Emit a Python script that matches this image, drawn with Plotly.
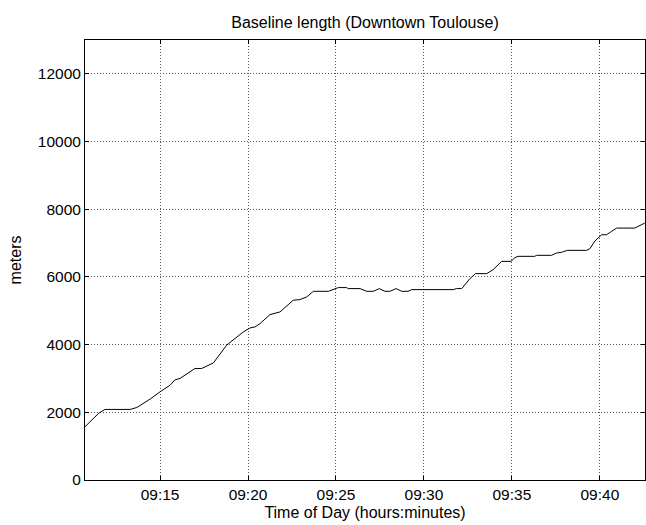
import plotly.graph_objects as go

DATE = "2014-03-12 "
times = ["09:10:44", "09:11:30", "09:11:52", "09:13:18", "09:13:41", "09:14:26", "09:15:00",
         "09:15:34", "09:15:51", "09:16:08", "09:16:59", "09:17:22", "09:18:02", "09:18:47",
         "09:19:44", "09:20:07", "09:20:24", "09:20:41", "09:21:15", "09:21:49", "09:22:34",
         "09:22:57", "09:23:20", "09:23:43", "09:24:34", "09:25:08", "09:25:36", "09:25:42",
         "09:26:22", "09:26:45", "09:27:07", "09:27:28", "09:27:47", "09:28:04", "09:28:25",
         "09:28:44", "09:29:06", "09:29:18", "09:31:40", "09:31:51", "09:32:09", "09:32:37",
         "09:32:56", "09:33:34", "09:33:56", "09:34:25", "09:34:57", "09:35:10", "09:35:21",
         "09:36:18", "09:36:24", "09:37:15", "09:37:32", "09:37:49", "09:38:09", "09:39:15",
         "09:39:26", "09:39:43", "09:40:06", "09:40:23", "09:40:40", "09:40:57", "09:41:59",
         "09:42:11", "09:42:33"]
meters = [1574, 1966, 2085, 2085, 2143, 2390, 2605,
          2800, 2960, 3000, 3295, 3295, 3460, 3983,
          4375, 4493, 4523, 4621, 4887, 4965, 5310,
          5330, 5408, 5575, 5575, 5685, 5685, 5655,
          5655, 5575, 5575, 5655, 5575, 5575, 5655,
          5575, 5575, 5625, 5625, 5655, 5655, 5950,
          6097, 6097, 6215, 6460, 6460, 6568, 6608,
          6608, 6638, 6638, 6706, 6726, 6785, 6785,
          6834, 7060, 7247, 7247, 7345, 7443, 7443,
          7493, 7590]
y_ticks = [0, 2000, 4000, 6000, 8000, 10000, 12000]
y_labels = ["0", "2000", "4000", "6000", "8000", "10000", "12000"]

x = [DATE + t for t in times]

fig = go.Figure()
fig.add_trace(go.Scatter(x=x, y=meters, mode="lines",
                         line=dict(color="black", width=1), showlegend=False))

FONT = "Liberation Sans, Arial, sans-serif"
TICK = 15.5
axis_common = dict(showline=True, linecolor="black", linewidth=1, mirror="ticks",
                   ticks="inside", ticklen=4, tickcolor="black", automargin=False,
                   showgrid=True, gridcolor="#555555", gridwidth=1, griddash="1px,2px",
                   zeroline=False, tickfont=dict(family=FONT, size=TICK, color="black"))

fig.update_xaxes(type="date", range=[DATE + "09:10:44", DATE + "09:42:34"],
                 tick0=DATE + "09:15:00", dtick=300000, tickformat="%H:%M",
                 title=dict(text="Time of Day (hours:minutes)", standoff=5,
                            font=dict(family=FONT, size=16, color="black")),
                 **axis_common)
fig.update_yaxes(range=[0, 13000], tickvals=y_ticks, ticktext=y_labels,
                 title=dict(text="meters", standoff=12,
                            font=dict(family=FONT, size=16, color="black")),
                 **axis_common)

fig.update_layout(
    width=646, height=525,
    margin=dict(l=85, r=1, t=40, b=45),
    paper_bgcolor="white", plot_bgcolor="white",
    title=dict(text="Baseline length (Downtown Toulouse)", x=(85 + 645) / 2 / 646,
               xanchor="center", y=1 - 22 / 525, yanchor="middle",
               font=dict(family=FONT, size=16, color="black")),
    font=dict(family=FONT, size=16, color="black"),
)

fig.write_html("out.html",
               config={"displayModeBar": False, "staticPlot": True},
               post_script="document.body.style.margin='0';"
                           "document.body.style.overflow='hidden';")
